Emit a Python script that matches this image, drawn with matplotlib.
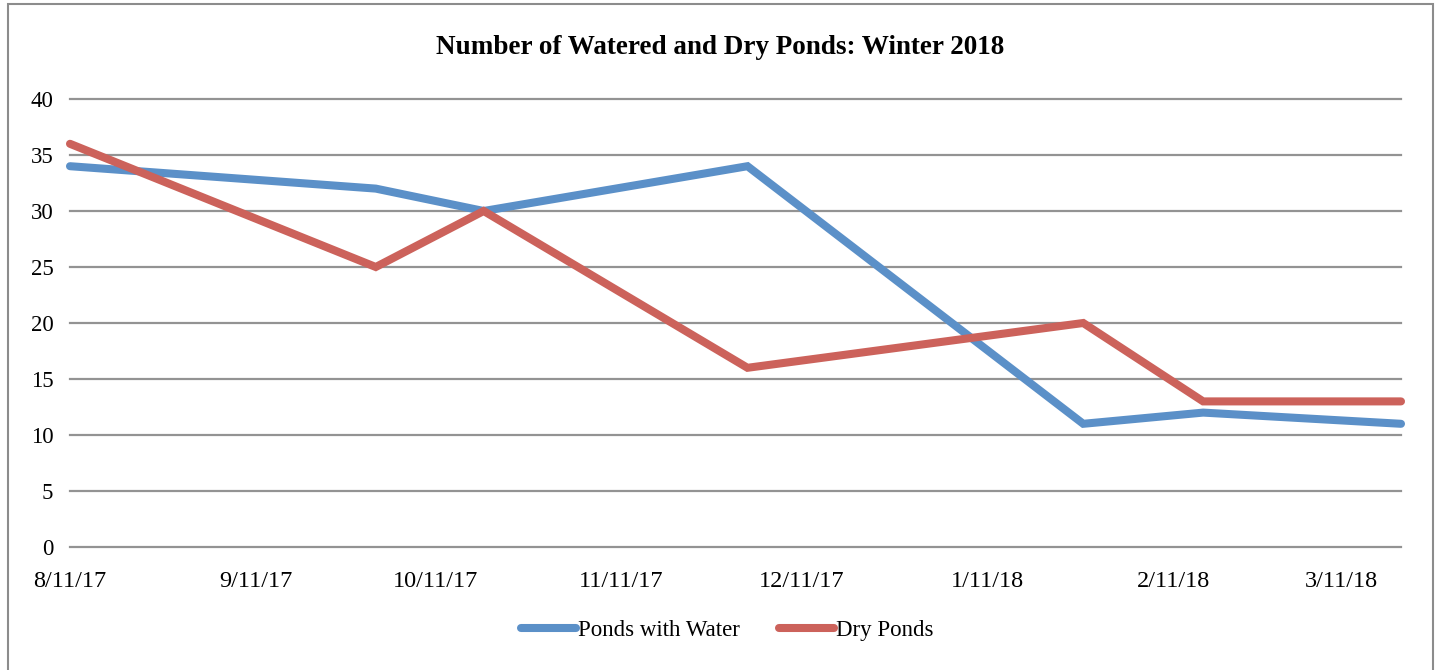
import matplotlib
matplotlib.use("Agg")
import matplotlib.pyplot as plt
import matplotlib.dates as mdates
from matplotlib.patches import Rectangle
import datetime as dt

dates = ["2017-08-11", "2017-10-01", "2017-10-19", "2017-12-02",
         "2018-01-27", "2018-02-16", "2018-03-21"]
ponds_with_water = [34, 32, 30, 34, 11, 12, 11]
dry_ponds = [36, 25, 30, 16, 20, 13, 13]
series_names = ["Ponds with Water", "Dry Ponds"]
title = "Number of Watered and Dry Ponds: Winter 2018"
y_ticks = [0, 5, 10, 15, 20, 25, 30, 35, 40]

x = [dt.datetime.strptime(d, "%Y-%m-%d") for d in dates]

plt.rcParams['font.family'] = ['Liberation Serif', 'DejaVu Serif']

W, H = 1440, 670
fig = plt.figure(figsize=(W / 100, H / 100), dpi=100)
fig.patch.set_facecolor("white")

# outer chart border
fig.add_artist(Rectangle((8 / W, -0.01), (1433 - 8) / W, 1 - 4 / H + 0.01,
                         transform=fig.transFigure, fill=False,
                         edgecolor="#8c8c8c", lw=1.5))

l, r = 70 / W, 1401 / W
b, t = 1 - 547 / H, 1 - 99 / H
ax = fig.add_axes([l, b, r - l, t - b])

blue = "#5B90C8"
red = "#CC625B"
lw = 5.8
ax.plot(x, ponds_with_water, color=blue, lw=lw, solid_capstyle="round",
        solid_joinstyle="miter", label=series_names[0], zorder=3, clip_on=False)
ax.plot(x, dry_ponds, color=red, lw=lw, solid_capstyle="round",
        solid_joinstyle="miter", label=series_names[1], zorder=3, clip_on=False)

ax.set_xlim(x[0], x[-1])
ax.set_ylim(0, 40)
ax.set_yticks(y_ticks)
ax.xaxis.set_major_locator(mdates.MonthLocator(bymonthday=11))
ax.xaxis.set_major_formatter(
    matplotlib.ticker.FuncFormatter(
        lambda v, pos: (lambda d: f"{d.month}/{d.day}/{d.year % 100:02d}")(mdates.num2date(v))))

ax.grid(axis="y", color="#939393", lw=1.6)
for gl in ax.get_ygridlines():
    gl.set_clip_on(False)
ax.set_axisbelow(True)
for s in ax.spines.values():
    s.set_visible(False)
ax.tick_params(axis="both", length=0, colors="black")
ax.tick_params(axis="y", pad=12, labelsize=16.5)
ax.tick_params(axis="x", pad=17, labelsize=17.5)

fig.text(0.5, 1 - 47 / H, title, ha="center", va="center",
         fontsize=19.5, fontweight="bold")

fig.legend(loc="center", bbox_to_anchor=(0.505, 1 - 630 / H), ncol=2,
           frameon=False, fontsize=16.5, handlelength=2.4, handletextpad=0.1,
           columnspacing=1.7)

fig.savefig("out.png", dpi=100, facecolor="white")
